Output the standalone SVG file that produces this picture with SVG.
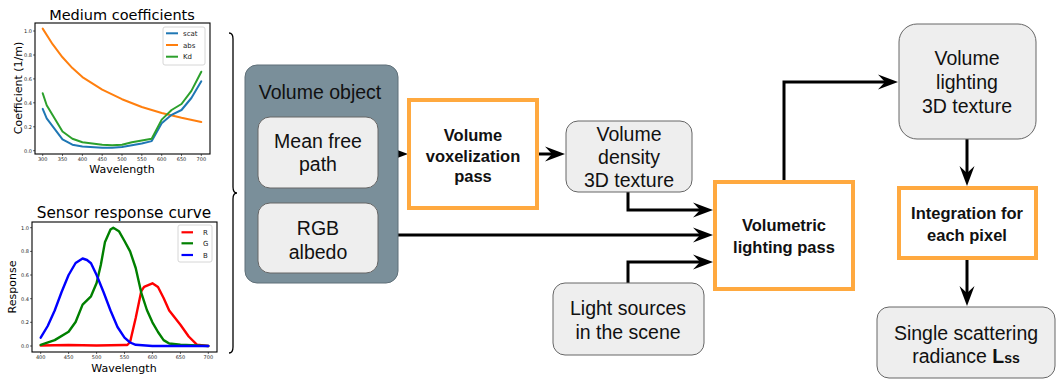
<svg xmlns="http://www.w3.org/2000/svg" width="1056" height="380" viewBox="0 0 1056 380">
  <style>
    .title { font-family: "DejaVu Sans", sans-serif; fill: #000; }
    .axlab { font-family: "DejaVu Sans", sans-serif; font-size: 11px; fill: #000; }
    .tick { font-family: "DejaVu Sans", sans-serif; font-size: 5px; fill: #222; }
    .leg { font-family: "DejaVu Sans", sans-serif; font-size: 7px; fill: #222; }
    .frame { fill: #fff; stroke: #000; stroke-width: 1.1; }
    .tk { stroke: #000; stroke-width: 0.6; }
    .curve { fill: none; stroke-width: 2; stroke-linejoin: round; stroke-linecap: round; }
    .curve2 { fill: none; stroke-width: 2.4; stroke-linejoin: round; stroke-linecap: round; }
    .node { fill: #eeeeee; stroke: #666; stroke-width: 1; }
    .pass { fill: #fff; stroke: #ffa93f; stroke-width: 4; }
    .lbl { font-family: "Liberation Sans", Arial, sans-serif; font-size: 19.5px; fill: #111; text-anchor: middle; }
    .bold { font-family: "Liberation Sans", Arial, sans-serif; font-size: 16.5px; font-weight: bold; fill: #111; text-anchor: middle; }
    .edge { fill: none; stroke: #000; stroke-width: 3; }
  </style>
  <defs>
    <!-- concave arrowhead; the line stops 10px short of the tip -->
    <marker id="arrow" viewBox="-11 -8 22 16" refX="0" refY="0" markerWidth="22" markerHeight="16" markerUnits="userSpaceOnUse" orient="auto">
      <path d="M10,0 L-10,-7.5 L-3,0 L-10,7.5 Z" fill="#000"/>
    </marker>
  </defs>

  <!-- Chart: medium coefficients -->
  <g id="chart-medium">
    <text class="title" x="122" y="20" font-size="14.5px" text-anchor="middle">Medium coefficients</text>
    <rect class="frame" x="35" y="23" width="175" height="131"/>
    <g class="tk">
      <line x1="35" y1="150.7" x2="33" y2="150.7"/><line x1="35" y1="126.8" x2="33" y2="126.8"/>
      <line x1="35" y1="102.8" x2="33" y2="102.8"/><line x1="35" y1="78.9" x2="33" y2="78.9"/>
      <line x1="35" y1="55" x2="33" y2="55"/><line x1="35" y1="31" x2="33" y2="31"/>
      <line x1="42.7" y1="154" x2="42.7" y2="156"/><line x1="62.5" y1="154" x2="62.5" y2="156"/>
      <line x1="82.4" y1="154" x2="82.4" y2="156"/><line x1="102.2" y1="154" x2="102.2" y2="156"/>
      <line x1="122" y1="154" x2="122" y2="156"/><line x1="141.8" y1="154" x2="141.8" y2="156"/>
      <line x1="161.7" y1="154" x2="161.7" y2="156"/><line x1="181.5" y1="154" x2="181.5" y2="156"/>
      <line x1="201.3" y1="154" x2="201.3" y2="156"/>
    </g>
    <g class="tick" text-anchor="end">
      <text x="32" y="152.5">0.0</text><text x="32" y="128.6">0.2</text><text x="32" y="104.6">0.4</text>
      <text x="32" y="80.7">0.6</text><text x="32" y="56.8">0.8</text><text x="32" y="32.8">1.0</text>
    </g>
    <g class="tick" text-anchor="middle">
      <text x="42.7" y="161">300</text><text x="62.5" y="161">350</text><text x="82.4" y="161">400</text>
      <text x="102.2" y="161">450</text><text x="122" y="161">500</text><text x="141.8" y="161">550</text>
      <text x="161.7" y="161">600</text><text x="181.5" y="161">650</text><text x="201.3" y="161">700</text>
    </g>
    <text class="axlab" x="122" y="173" text-anchor="middle">Wavelength</text>
    <text class="axlab" x="0" y="0" text-anchor="middle" transform="translate(22,88) rotate(-90)">Coefficient (1/m)</text>
    <polyline class="curve" stroke="#ff7f0e" points="42.7,28.6 52.6,44.2 62.5,57.3 72.4,68.1 82.4,77.1 102.2,89.7 122,99.2 141.8,107 161.7,113 181.5,117.8 201.3,122"/>
    <polyline class="curve" stroke="#1f77b4" points="42.7,108.8 46.7,118.4 62.5,139.3 72.4,144.7 82.4,146.5 102.2,147.7 112.1,147.7 122,147.1 141.8,143.5 151.7,141.1 161.7,123.2 171.6,114.8 181.5,110 191.4,98 201.3,81.3"/>
    <polyline class="curve" stroke="#2ca02c" points="42.7,93.2 46.7,105.2 62.5,131.5 72.4,138.7 82.4,142.3 102.2,144.7 112.1,145.3 122,144.7 131.9,142.3 151.7,138.7 161.7,119.6 171.6,110 181.5,104 191.4,90.9 201.3,71.7"/>
    <rect x="163" y="27" width="42" height="38" rx="2" fill="#fff" stroke="#ccc" stroke-width="0.8"/>
    <line x1="166" y1="33.3" x2="178" y2="33.3" stroke="#1f77b4" stroke-width="2"/>
    <line x1="166" y1="45" x2="178" y2="45" stroke="#ff7f0e" stroke-width="2"/>
    <line x1="166" y1="56.7" x2="178" y2="56.7" stroke="#2ca02c" stroke-width="2"/>
    <text class="leg" x="183" y="35.8">scat</text>
    <text class="leg" x="183" y="47.5">abs</text>
    <text class="leg" x="183" y="59.2">Kd</text>
  </g>

  <!-- Chart: sensor response curve -->
  <g id="chart-sensor">
    <text class="title" x="124" y="218" font-size="15.3px" text-anchor="middle">Sensor response curve</text>
    <rect class="frame" x="32" y="222" width="185" height="130"/>
    <g class="tk">
      <line x1="32" y1="346" x2="30" y2="346"/><line x1="32" y1="322.3" x2="30" y2="322.3"/>
      <line x1="32" y1="298.7" x2="30" y2="298.7"/><line x1="32" y1="275" x2="30" y2="275"/>
      <line x1="32" y1="251.4" x2="30" y2="251.4"/><line x1="32" y1="227.7" x2="30" y2="227.7"/>
      <line x1="40.7" y1="352" x2="40.7" y2="354"/><line x1="68.6" y1="352" x2="68.6" y2="354"/>
      <line x1="96.6" y1="352" x2="96.6" y2="354"/><line x1="124.5" y1="352" x2="124.5" y2="354"/>
      <line x1="152.4" y1="352" x2="152.4" y2="354"/><line x1="180.4" y1="352" x2="180.4" y2="354"/>
      <line x1="208.3" y1="352" x2="208.3" y2="354"/>
    </g>
    <g class="tick" text-anchor="end">
      <text x="29" y="347.8">0.0</text><text x="29" y="324.1">0.2</text><text x="29" y="300.5">0.4</text>
      <text x="29" y="276.8">0.6</text><text x="29" y="253.2">0.8</text><text x="29" y="229.5">1.0</text>
    </g>
    <g class="tick" text-anchor="middle">
      <text x="40.7" y="359">400</text><text x="68.6" y="359">450</text><text x="96.6" y="359">500</text>
      <text x="124.5" y="359">550</text><text x="152.4" y="359">600</text><text x="180.4" y="359">650</text>
      <text x="208.3" y="359">700</text>
    </g>
    <text class="axlab" x="124" y="372" text-anchor="middle">Wavelength</text>
    <text class="axlab" x="0" y="0" text-anchor="middle" transform="translate(16,287) rotate(-90)">Response</text>
    <polyline class="curve2" stroke="#ff0000" points="40.7,345.5 68.6,345 96.6,345.5 124.5,345 127.3,345 130.1,342 135.7,318 141.3,291 144.1,286.9 152.4,283.3 158,287 163.6,298 169.2,310.5 180.4,324.7 188.7,336.5 197.1,344.8 208.3,346"/>
    <polyline class="curve2" stroke="#008000" points="40.7,344.8 54.7,340.1 68.6,331.8 75.6,322 82.6,304.6 91,296.3 96.6,283 100.8,265 105,241.9 110.5,229.5 113.3,227.7 118.9,231.2 124.5,241 130.1,251.4 135.7,268 141.3,292.8 146.9,310 152.4,322.3 158,332 163.6,340.1 169.2,343.5 180.4,344.8 208.3,346"/>
    <polyline class="curve2" stroke="#0000ff" points="40.7,337.7 47.7,326 54.7,310.5 61.6,292 68.6,275 75.6,263 82.6,258.5 87,260 91,263.2 96.6,275 103.5,292 110.5,310.5 117.5,327 124.5,337.7 130.1,342.5 135.7,344.8 152.4,346 208.3,346"/>
    <rect x="178" y="225" width="34" height="37" rx="2" fill="#fff" stroke="#ccc" stroke-width="0.8"/>
    <line x1="181.5" y1="232.3" x2="193" y2="232.3" stroke="#ff0000" stroke-width="2.2"/>
    <line x1="181.5" y1="243.3" x2="193" y2="243.3" stroke="#008000" stroke-width="2.2"/>
    <line x1="181.5" y1="255" x2="193" y2="255" stroke="#0000ff" stroke-width="2.2"/>
    <text class="leg" x="203" y="234.8">R</text>
    <text class="leg" x="203" y="245.8">G</text>
    <text class="leg" x="203" y="257.5">B</text>
  </g>

  <!-- Curly brace grouping both charts -->
  <path id="brace" d="M229,33 Q233,33 233,39 L233,187 Q233,193 237,193 Q233,193 233,199 L233,347 Q233,353 229,353" fill="none" stroke="#000" stroke-width="1.3"/>

  <!-- Connectors -->
  <g id="connectors" class="edge">
    <line x1="378" y1="154" x2="398" y2="154" marker-end="url(#arrow)"/>
    <line x1="537" y1="154" x2="555" y2="154" marker-end="url(#arrow)"/>
    <polyline points="628,192 628,210 703,210" marker-end="url(#arrow)"/>
    <line x1="378" y1="235" x2="703" y2="235" marker-end="url(#arrow)"/>
    <polyline points="628,283 628,262 703,262" marker-end="url(#arrow)"/>
    <polyline points="784,182 784,82 888,82" marker-end="url(#arrow)"/>
    <line x1="967" y1="139" x2="967" y2="176" marker-end="url(#arrow)"/>
    <line x1="967" y1="259" x2="967" y2="296" marker-end="url(#arrow)"/>
  </g>

  <!-- Volume object container -->
  <g id="volume-object">
    <rect x="245" y="65" width="153" height="218" rx="12" fill="#7a8f9a" stroke="#5f6f78" stroke-width="1"/>
    <text class="lbl" x="320" y="99">Volume object</text>
  </g>
  <g id="mean-free-path">
    <rect class="node" x="258" y="117" width="120" height="71" rx="12"/>
    <text class="lbl" x="318" y="148">Mean free</text>
    <text class="lbl" x="318" y="171">path</text>
  </g>
  <g id="rgb-albedo">
    <rect class="node" x="258" y="203" width="120" height="70" rx="12"/>
    <text class="lbl" x="318" y="235">RGB</text>
    <text class="lbl" x="318" y="259">albedo</text>
  </g>

  <g id="voxelization-pass">
    <rect class="pass" x="409" y="100" width="128" height="108"/>
    <text class="bold" x="473" y="141">Volume</text>
    <text class="bold" x="473" y="162">voxelization</text>
    <text class="bold" x="473" y="182">pass</text>
  </g>

  <g id="density-texture">
    <rect class="node" x="566" y="121" width="126" height="71" rx="12"/>
    <text class="lbl" x="629" y="141">Volume</text>
    <text class="lbl" x="629" y="164">density</text>
    <text class="lbl" x="629" y="187">3D texture</text>
  </g>

  <g id="light-sources">
    <rect class="node" x="553" y="283" width="151" height="72" rx="12"/>
    <text class="lbl" x="628" y="315">Light sources</text>
    <text class="lbl" x="628" y="339">in the scene</text>
  </g>

  <g id="lighting-pass">
    <rect class="pass" x="715" y="182" width="138" height="107"/>
    <text class="bold" x="784" y="231">Volumetric</text>
    <text class="bold" x="784" y="253">lighting pass</text>
  </g>

  <g id="lighting-texture">
    <rect class="node" x="899" y="24" width="137" height="115" rx="18"/>
    <text class="lbl" x="967" y="65">Volume</text>
    <text class="lbl" x="967" y="89">lighting</text>
    <text class="lbl" x="967" y="113">3D texture</text>
  </g>

  <g id="integration">
    <rect class="pass" x="899" y="188" width="137" height="70"/>
    <text class="bold" x="967" y="219">Integration for</text>
    <text class="bold" x="967" y="241">each pixel</text>
  </g>

  <g id="scattering-radiance">
    <rect class="node" x="877" y="307" width="178" height="71" rx="12"/>
    <text class="lbl" x="966" y="340">Single scattering</text>
    <text class="lbl" x="966" y="363">radiance <tspan font-weight="bold">L<tspan font-size="14px">ss</tspan></tspan></text>
  </g>
</svg>
